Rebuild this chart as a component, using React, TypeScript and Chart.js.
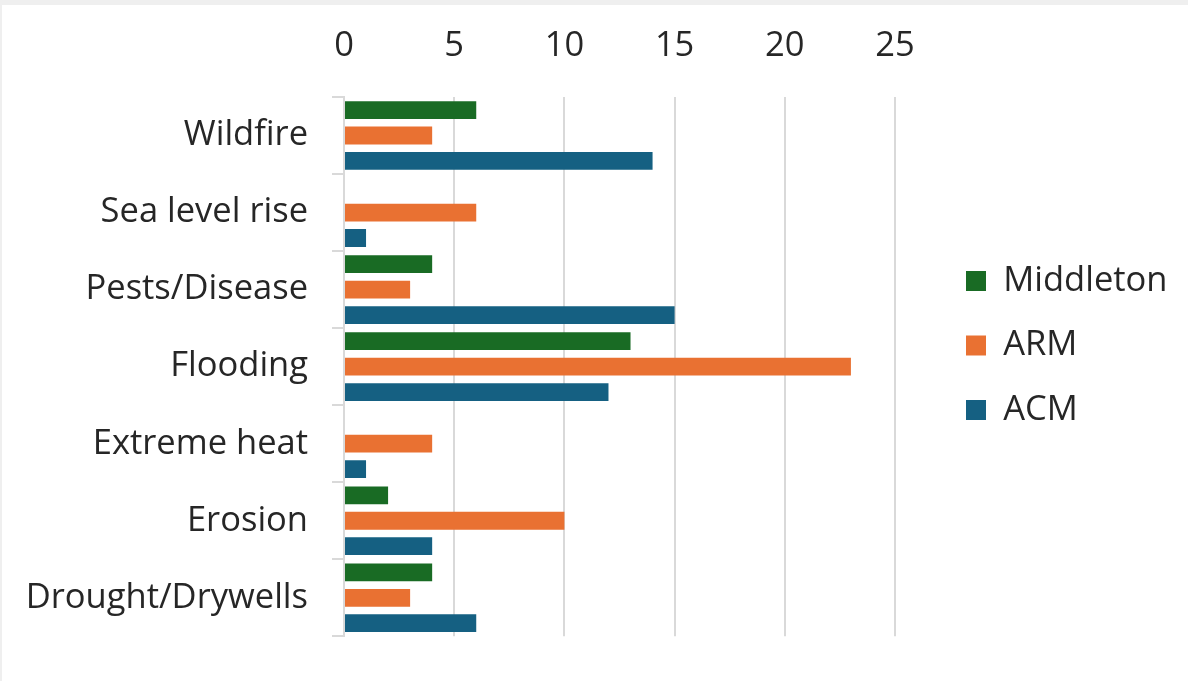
import React, { useEffect, useRef } from "react";
import { Chart, registerables } from "chart.js";

Chart.register(...registerables);

const categories = [
  "Wildfire",
  "Sea level rise",
  "Pests/Disease",
  "Flooding",
  "Extreme heat",
  "Erosion",
  "Drought/Drywells",
];
const middleton = [6, 0, 4, 13, 0, 2, 4];
const arm = [4, 6, 3, 23, 4, 10, 3];
const acm = [14, 1, 15, 12, 1, 4, 6];
const xTickValues = [0, 5, 10, 15, 20, 25];

const FONT = "'Open Sans', 'Liberation Sans', sans-serif";
const TEXT = "#262626";
const GRID = "#d9d9d9";

const legendWidthPlugin = {
  id: "legendWidth",
  beforeLayout(chart: any) {
    const lg: any = chart.legend;
    if (lg && !lg.__patched) {
      const orig = lg.fit;
      lg.fit = function () {
        orig.call(this);
        this.width = 252;
      };
      lg.__patched = true;
    }
  },
};

export default function App() {
  const ref = useRef<HTMLCanvasElement | null>(null);

  useEffect(() => {
    if (!ref.current) return;
    const chart = new Chart(ref.current, {
      type: "bar",
      data: {
        labels: categories,
        datasets: [
          { label: "Middleton", data: middleton, backgroundColor: "#196B24" },
          { label: "ARM", data: arm, backgroundColor: "#E97132" },
          { label: "ACM", data: acm, backgroundColor: "#156082" },
        ],
      },
      plugins: [legendWidthPlugin],
      options: {
        indexAxis: "y",
        responsive: false,
        maintainAspectRatio: false,
        animation: false,
        layout: { padding: { left: 0, right: 0, top: 0, bottom: 31 } },
        datasets: {
          bar: { categoryPercentage: 0.99, barPercentage: 0.7, borderWidth: 0 },
        },
        scales: {
          x: {
            position: "top",
            min: 0,
            max: 26.86,
            afterFit: (s: any) => {
              s.height = 92;
            },
            afterBuildTicks: (s: any) => {
              s.ticks = xTickValues.map((v) => ({ value: v }));
            },
            ticks: {
              includeBounds: false,
              stepSize: 5,
              padding: 30,
              color: TEXT,
              font: { family: FONT, size: 34.5 },
              maxRotation: 0,
            },
            grid: { color: GRID, lineWidth: 2, drawTicks: false },
            border: { display: false },
          },
          y: {
            afterFit: (s: any) => {
              s.width = 342;
            },
            ticks: {
              padding: 24,
              color: TEXT,
              font: { family: FONT, size: 34.5 },
            },
            grid: {
              drawOnChartArea: false,
              drawTicks: true,
              tickLength: 12,
              color: GRID,
              lineWidth: 2,
            },
            border: { display: true, color: GRID, width: 2 },
          },
        },
        plugins: {
          tooltip: { enabled: false },
          legend: {
            position: "right",
            align: "center",
            title: {
              display: true,
              text: "",
              padding: 13,
              font: { size: 10, lineHeight: 1 },
            },
            labels: {
              boxWidth: 20,
              boxHeight: 20,
              padding: 30,
              color: TEXT,
              font: { family: FONT, size: 34.5 },
            },
          },
        },
      },
    });
    return () => chart.destroy();
  }, []);

  return (
    <div
      style={{
        position: "absolute",
        left: 0,
        top: 0,
        width: 1188,
        height: 681,
        background: "#efefef",
      }}
    >
      <canvas
        ref={ref}
        width={1186}
        height={676}
        style={{
          position: "absolute",
          left: 2,
          top: 5,
          width: 1186,
          height: 676,
          background: "#ffffff",
        }}
      />
    </div>
  );
}
